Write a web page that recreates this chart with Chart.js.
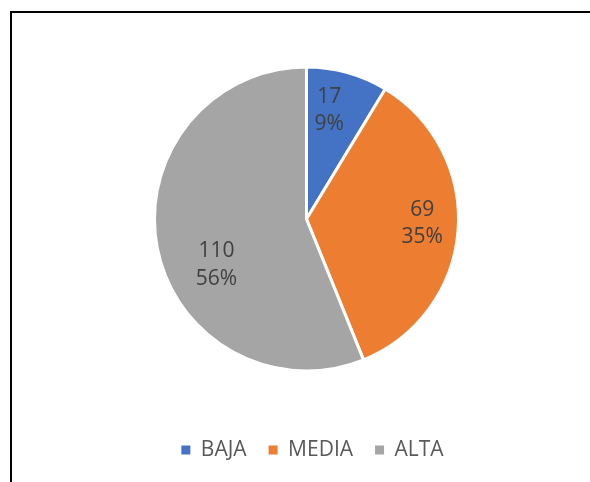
<!DOCTYPE html>
<html>
<head>
<meta charset="utf-8">
<script src="https://cdn.jsdelivr.net/npm/chart.js@4.4.0/dist/chart.umd.min.js"></script>
<style>
  html, body { margin: 0; padding: 0; background: #fff; overflow: hidden; }
  #wrap { position: relative; width: 590px; height: 482px; }
  #frame { position: absolute; left: 10px; top: 11px; width: 700px; height: 600px; border: 2px solid #000; box-sizing: border-box; }
  #c { position: absolute; left: 0; top: 0; }
</style>
</head>
<body>
<div id="wrap">
  <div id="frame"></div>
  <canvas id="c" width="590" height="482"></canvas>
</div>
<script>
const categories = ['BAJA', 'MEDIA', 'ALTA'];
const values = [17, 69, 110];
const colors = ['#4472C4', '#ED7D31', '#A5A5A5'];

// label placement relative to each slice (angle shift in degrees, radius fraction)
const labelPlacement = [
  { dAngle: -3.8, frac: 0.73 },
  { dAngle: -2.35, frac: 0.762 },
  { dAngle: -16, frac: 0.665 }
];

const FONT = '"Open Sans", "DejaVu Sans", sans-serif';

const labelPlugin = {
  id: 'sliceLabels',
  afterDatasetsDraw(chart) {
    const meta = chart.getDatasetMeta(0);
    const data = chart.data.datasets[0].data;
    const total = data.reduce((a, b) => a + b, 0);
    const ctx = chart.ctx;
    ctx.save();
    ctx.font = '21px ' + FONT;
    ctx.fillStyle = '#404040';
    ctx.textAlign = 'center';
    ctx.textBaseline = 'middle';
    meta.data.forEach((arc, i) => {
      const p = arc.getProps(['x', 'y', 'startAngle', 'endAngle', 'outerRadius'], true);
      const pl = labelPlacement[i];
      const a = (p.startAngle + p.endAngle) / 2 + pl.dAngle * Math.PI / 180;
      const cx = p.x + Math.cos(a) * p.outerRadius * pl.frac;
      const cy = p.y + Math.sin(a) * p.outerRadius * pl.frac;
      const pct = Math.round(data[i] / total * 100) + '%';
      ctx.fillText(String(data[i]), cx, cy - 13.75);
      ctx.fillText(pct, cx, cy + 13.75);
    });
    ctx.restore();
  }
};

const legendShift = {
  id: 'legendShift',
  afterLayout(chart) {
    if (chart.legend) {
      chart.legend.left += 6;
      chart.legend.right += 6;
    }
  }
};

new Chart(document.getElementById('c'), {
  type: 'pie',
  data: {
    labels: categories,
    datasets: [{
      data: values,
      backgroundColor: colors,
      borderColor: '#ffffff',
      borderWidth: 3
    }]
  },
  options: {
    responsive: false,
    animation: false,
    radius: 152,
    layout: { padding: { left: 23, right: 0, top: 20.5, bottom: 11.5 } },
    plugins: {
      tooltip: { enabled: false },
      legend: {
        position: 'bottom',
        labels: {
          boxWidth: 9,
          boxHeight: 9,
          padding: 22,
          color: '#595959',
          font: { family: FONT, size: 21 },
          generateLabels(chart) {
            const items = Chart.overrides.pie.plugins.legend.labels.generateLabels(chart);
            return items.map(it => Object.assign(it, { lineWidth: 0, strokeStyle: it.fillStyle }));
          }
        }
      }
    }
  },
  plugins: [labelPlugin, legendShift]
});
</script>
</body>
</html>
